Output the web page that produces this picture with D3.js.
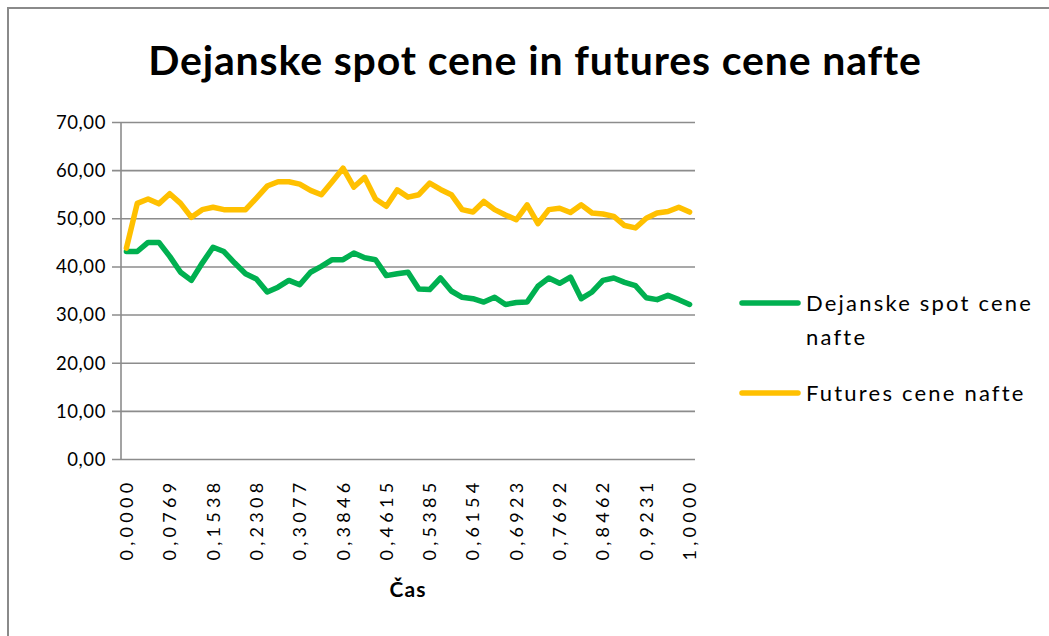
<!DOCTYPE html>
<html>
<head>
<meta charset="utf-8">
<script src="https://cdn.jsdelivr.net/npm/d3@7"></script>
<style>
  body { margin: 0; background: #fff; }
  svg { display: block; font-family: Lato, "Open Sans", sans-serif; }
</style>
</head>
<body>
<svg id="chart" width="1049" height="636"></svg>
<script>
// time categories (fraction of period), every 4th gets a label
var cas = [0.0000, 0.0192, 0.0385, 0.0577, 0.0769, 0.0962, 0.1154, 0.1346, 0.1538, 0.1731,
  0.1923, 0.2115, 0.2308, 0.2500, 0.2692, 0.2885, 0.3077, 0.3269, 0.3462, 0.3654,
  0.3846, 0.4038, 0.4231, 0.4423, 0.4615, 0.4808, 0.5000, 0.5192, 0.5385, 0.5577,
  0.5769, 0.5962, 0.6154, 0.6346, 0.6538, 0.6731, 0.6923, 0.7115, 0.7308, 0.7500,
  0.7692, 0.7885, 0.8077, 0.8269, 0.8462, 0.8654, 0.8846, 0.9038, 0.9231, 0.9423,
  0.9615, 0.9808, 1.0000];

var spot = [43.2, 43.2, 45.1, 45.1, 42.2, 38.9, 37.2, 40.8, 44.1, 43.2,
  40.8, 38.6, 37.5, 34.8, 35.8, 37.2, 36.3, 38.9, 40.1, 41.5,
  41.5, 42.9, 41.9, 41.5, 38.2, 38.6, 38.9, 35.4, 35.3, 37.7,
  35.0, 33.7, 33.4, 32.7, 33.7, 32.2, 32.6, 32.7, 36.0, 37.7,
  36.6, 37.9, 33.4, 34.8, 37.2, 37.7, 36.8, 36.1, 33.6, 33.2,
  34.1, 33.2, 32.2];

var futures = [43.9, 53.2, 54.1, 53.1, 55.2, 53.2, 50.3, 51.9, 52.4, 51.9,
  51.9, 51.9, 54.3, 56.8, 57.7, 57.7, 57.2, 55.9, 55.0, 57.7,
  60.5, 56.6, 58.6, 54.1, 52.6, 56.0, 54.5, 55.0, 57.4, 56.1,
  55.0, 51.9, 51.4, 53.6, 51.9, 50.8, 49.8, 52.9, 49.0, 51.9,
  52.2, 51.3, 52.9, 51.2, 51.0, 50.5, 48.6, 48.1, 50.1, 51.2,
  51.5, 52.4, 51.4];

var yTicks = [0, 10, 20, 30, 40, 50, 60, 70];

var series = [
  { name: ["Dejanske spot cene", "nafte"], values: spot, color: "#00b050" },
  { name: ["Futures cene nafte"], values: futures, color: "#ffc000" }
];

var svg = d3.select("#chart");
var plotLeft = 121, plotRight = 695, plotTop = 122.5, plotBottom = 459.5;
var gridColor = "#8c8c8c";

// outer chart frame
svg.append("rect")
    .attr("x", 8).attr("y", 8)
    .attr("width", 1100).attr("height", 700)
    .attr("fill", "none")
    .attr("stroke", "#8a8a8a")
    .attr("stroke-width", 2);

var x = d3.scaleBand()
    .domain(d3.range(cas.length))
    .range([plotLeft, plotRight])
    .padding(0);

var y = d3.scaleLinear()
    .domain([0, 70])
    .range([plotBottom, plotTop]);

var fmt = function (v, n) { return d3.format("." + n + "f")(v).replace(".", ","); };

// gridlines
svg.append("g")
  .selectAll("line")
  .data(yTicks)
  .join("line")
    .attr("x1", plotLeft - 9).attr("x2", plotRight)
    .attr("y1", function (d) { return y(d); })
    .attr("y2", function (d) { return y(d); })
    .attr("stroke", gridColor)
    .attr("stroke-width", 1.6);

// y axis
var yAxis = svg.append("g")
    .attr("transform", "translate(" + plotLeft + ",0)")
    .call(d3.axisLeft(y).tickValues(yTicks).tickSize(0).tickPadding(15)
      .tickFormat(function (d) { return fmt(d, 2); }));
yAxis.select(".domain").remove();
yAxis.append("line")
    .attr("y1", plotTop).attr("y2", plotBottom)
    .attr("stroke", gridColor).attr("stroke-width", 1.6);
yAxis.selectAll("text")
    .attr("font-family", "Lato, sans-serif")
    .attr("font-size", 18.5)
    .attr("letter-spacing", 0.6)
    .attr("fill", "#000");

// x labels, rotated
svg.append("g")
  .selectAll("text")
  .data(cas.filter(function (d, i) { return i % 4 === 0; }))
  .join("text")
    .attr("transform", function (d) {
      var i = cas.indexOf(d);
      return "translate(" + (x(i) + x.bandwidth() / 2) + "," + (plotBottom + 19) + ") rotate(-90)";
    })
    .attr("dy", "0.36em")
    .attr("text-anchor", "end")
    .attr("font-size", 18)
    .attr("letter-spacing", 4.3)
    .text(function (d) { return fmt(d, 4); });

// x axis title
svg.append("text")
    .attr("x", (plotLeft + plotRight) / 2).attr("y", 597)
    .attr("text-anchor", "middle")
    .attr("font-size", 21)
    .attr("font-weight", "bold")
    .attr("letter-spacing", 1)
    .text("Čas");

// lines
var line = d3.line()
    .x(function (d, i) { return x(i) + x.bandwidth() / 2; })
    .y(function (d) { return y(d); });

svg.append("g")
  .selectAll("path")
  .data(series)
  .join("path")
    .attr("d", function (s) { return line(s.values); })
    .attr("fill", "none")
    .attr("stroke", function (s) { return s.color; })
    .attr("stroke-width", 5.5)
    .attr("stroke-linejoin", "round")
    .attr("stroke-linecap", "round");

// title
svg.append("text")
    .attr("x", 535).attr("y", 75)
    .attr("text-anchor", "middle")
    .attr("font-size", 41)
    .attr("font-weight", "bold")
    .attr("letter-spacing", 0.85)
    .text("Dejanske spot cene in futures cene nafte");

// legend
var legendY = [303, 393];
var leg = svg.append("g")
  .selectAll("g")
  .data(series)
  .join("g")
    .attr("transform", function (s, i) { return "translate(740," + legendY[i] + ")"; });

leg.append("line")
    .attr("x1", 2).attr("x2", 58)
    .attr("stroke", function (s) { return s.color; })
    .attr("stroke-width", 5.5)
    .attr("stroke-linecap", "round");

leg.append("text")
    .attr("x", 66).attr("y", 8)
    .attr("font-size", 22)
    .attr("letter-spacing", 2.2)
  .selectAll("tspan")
  .data(function (s) { return s.name; })
  .join("tspan")
    .attr("x", 66)
    .attr("dy", function (d, i) { return i === 0 ? 0 : 34; })
    .text(function (d) { return d; });
</script>
</body>
</html>
